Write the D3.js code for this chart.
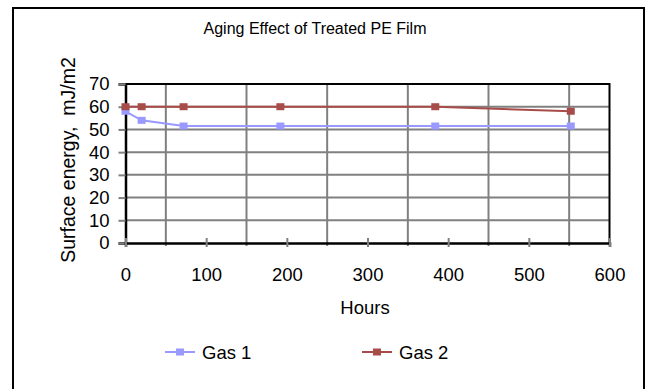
<!DOCTYPE html>
<html>
<head>
<meta charset="utf-8">
<script src="https://cdn.jsdelivr.net/npm/d3@7"></script>
<style>
  body { margin: 0; background: #fff; }
  text { font-family: "Liberation Sans", Arial, sans-serif; fill: #000; }
</style>
</head>
<body>
<svg width="649" height="389"></svg>
<script>
// data
var hours = [0, 20, 72, 192, 384, 552];
var gas1 = [58, 54, 51.5, 51.5, 51.5, 51.5];
var gas2 = [60, 60, 60, 60, 60, 58];
var seriesNames = ["Gas 1", "Gas 2"];
var seriesColors = ["#9999ff", "#a84c4a"];
var xTicks = [0, 100, 200, 300, 400, 500, 600];
var xGrid = [50, 150, 250, 350, 450, 550];
var yTicks = [0, 10, 20, 30, 40, 50, 60, 70];

var svg = d3.select("svg"),
    width = +svg.attr("width"),
    height = +svg.attr("height");

var plot = {left: 125.5, right: 609.5, top: 84, bottom: 243};

var x = d3.scaleLinear().domain([0, 600]).range([plot.left, plot.right]);
var y = d3.scaleLinear().domain([0, 70]).range([plot.bottom, plot.top]);

// outer chart border
svg.append("rect")
    .attr("x", 13).attr("y", 8)
    .attr("width", 631).attr("height", 400)
    .attr("fill", "none").attr("stroke", "#000").attr("stroke-width", 2);

// title
svg.append("text")
    .attr("x", 315).attr("y", 34)
    .attr("text-anchor", "middle")
    .style("font-size", "16px")
    .text("Aging Effect of Treated PE Film");

// gridlines
svg.append("g").selectAll("line")
    .data(yTicks.slice(1, -1))
    .enter().append("line")
      .attr("x1", plot.left).attr("x2", plot.right)
      .attr("y1", function(d) { return y(d); })
      .attr("y2", function(d) { return y(d); })
      .attr("stroke", "#808080").attr("stroke-width", 2);

svg.append("g").selectAll("line")
    .data(xGrid)
    .enter().append("line")
      .attr("x1", function(d) { return x(d); })
      .attr("x2", function(d) { return x(d); })
      .attr("y1", plot.top).attr("y2", plot.bottom + 3)
      .attr("stroke", "#808080").attr("stroke-width", 2);

// top and right border of the plot
svg.append("path")
    .attr("d", "M" + plot.left + "," + plot.top + "H" + plot.right + "V" + plot.bottom)
    .attr("fill", "none").attr("stroke", "#000").attr("stroke-width", 2);

// y axis
var yAxis = svg.append("g")
    .attr("transform", "translate(" + plot.left + ",0)")
    .call(d3.axisLeft(y).tickValues(yTicks).tickSize(7).tickPadding(9));
yAxis.select(".domain").attr("stroke", "#000").attr("stroke-width", 2.5);
yAxis.selectAll(".tick line").attr("stroke", "#808080").attr("stroke-width", 2);
yAxis.selectAll(".tick text").style("font-size", "18.5px").style("font-family", "Liberation Sans, Arial, sans-serif");

// x axis
var xAxis = svg.append("g")
    .attr("transform", "translate(0," + plot.bottom + ")")
    .call(d3.axisBottom(x).tickValues(xTicks).tickSize(4).tickPadding(21));
xAxis.select(".domain").attr("stroke", "#000").attr("stroke-width", 2.5);
xAxis.selectAll(".tick line").attr("y1", -5).attr("stroke", "#808080").attr("stroke-width", 2);
xAxis.selectAll(".tick text").style("font-size", "18.5px").style("font-family", "Liberation Sans, Arial, sans-serif");

// axis titles
svg.append("text")
    .attr("x", 365).attr("y", 314)
    .attr("text-anchor", "middle")
    .style("font-size", "18.5px")
    .text("Hours");

svg.append("text")
    .attr("transform", "translate(75,160) rotate(-90)")
    .attr("text-anchor", "middle")
    .style("font-size", "19.5px")
    .style("white-space", "pre")
    .text("Surface energy,  mJ/m2");

// series
var series = [gas1, gas2];
var line = d3.line()
    .x(function(d, i) { return x(hours[i]); })
    .y(function(d) { return y(d); });

series.forEach(function(vals, s) {
  svg.append("path")
      .datum(vals)
      .attr("d", line)
      .attr("fill", "none")
      .attr("stroke", seriesColors[s]).attr("stroke-width", 2);
  svg.append("g").selectAll("rect")
      .data(vals)
      .enter().append("rect")
        .attr("x", function(d, i) { return x(hours[i]) - 4; })
        .attr("y", function(d) { return y(d) - 3.5; })
        .attr("width", 8).attr("height", 7)
        .attr("fill", seriesColors[s]);
});

// legend
var legend = svg.append("g").selectAll("g")
    .data(seriesNames)
    .enter().append("g")
      .attr("transform", function(d, i) { return "translate(" + (165 + i * 197) + ",352)"; });
legend.append("line")
    .attr("x1", 0).attr("x2", 30)
    .attr("stroke", function(d, i) { return seriesColors[i]; }).attr("stroke-width", 2);
legend.append("rect")
    .attr("x", 11).attr("y", -3.5).attr("width", 8).attr("height", 7)
    .attr("fill", function(d, i) { return seriesColors[i]; });
legend.append("text")
    .attr("x", 37).attr("y", 7)
    .style("font-size", "18.5px")
    .text(function(d) { return d; });
</script>
</body>
</html>
